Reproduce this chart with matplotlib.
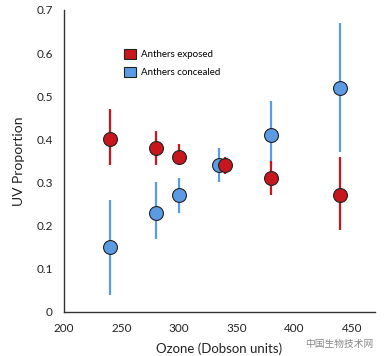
import matplotlib
matplotlib.use("Agg")
import matplotlib.pyplot as plt
from matplotlib.patches import Patch

ozone_exposed = [240, 280, 300, 340, 380, 440]
uv_exposed = [0.40, 0.38, 0.36, 0.34, 0.31, 0.27]
lo_exposed = [0.34, 0.34, 0.34, 0.32, 0.27, 0.19]
hi_exposed = [0.47, 0.42, 0.39, 0.36, 0.35, 0.36]

ozone_concealed = [240, 280, 300, 335, 380, 440]
uv_concealed = [0.15, 0.23, 0.27, 0.34, 0.41, 0.52]
lo_concealed = [0.04, 0.17, 0.23, 0.30, 0.34, 0.37]
hi_concealed = [0.26, 0.30, 0.31, 0.38, 0.49, 0.67]

xticks = [200, 250, 300, 350, 400, 450]
yticks = [0, 0.1, 0.2, 0.3, 0.4, 0.5, 0.6, 0.7]
ytick_labels = ["0", "0.1", "0.2", "0.3", "0.4", "0.5", "0.6", "0.7"]

red = "#C8161D"
blue = "#5B9BE3"

plt.rcParams['font.family'] = ['Lato', 'DejaVu Sans']
fig = plt.figure(figsize=(3.85, 3.56), dpi=100)
ax = fig.add_axes([0.166, 0.124, 0.808, 0.848])

def draw(x, y, lo, hi, color, z):
    yerr = [[yy - l for yy, l in zip(y, lo)], [h - yy for yy, h in zip(y, hi)]]
    ax.errorbar(x, y, yerr=yerr, fmt='none', ecolor=color, elinewidth=1.6, capsize=0, zorder=z)
    ax.plot(x, y, 'o', color=color, markersize=10, markeredgecolor='#222222',
            markeredgewidth=0.8, linestyle='none', zorder=z + 0.5)

draw(ozone_concealed, uv_concealed, lo_concealed, hi_concealed, blue, 2)
draw(ozone_exposed, uv_exposed, lo_exposed, hi_exposed, red, 3)

ax.set_xlim(200, 470)
ax.set_ylim(0, 0.7)
ax.set_xticks(xticks)
ax.set_xticklabels([str(t) for t in xticks])
ax.set_yticks(yticks)
ax.set_yticklabels(ytick_labels)
ax.tick_params(length=0, labelsize=8.5, colors='#222222', pad=8)
for s in ['top', 'right']:
    ax.spines[s].set_visible(False)
for s in ['left', 'bottom']:
    ax.spines[s].set_color('#333333')
    ax.spines[s].set_linewidth(1.0)

ax.set_xlabel("Ozone (Dobson units)", fontsize=9.5, color='#222222', labelpad=6)
ax.set_ylabel("UV Proportion", fontsize=10, color='#222222', labelpad=8)

handles = [Patch(facecolor=red, edgecolor='#222222', linewidth=0.8, label="Anthers exposed"),
           Patch(facecolor=blue, edgecolor='#222222', linewidth=0.8, label="Anthers concealed")]
ax.legend(handles=handles, loc='upper left', bbox_to_anchor=(0.165, 0.9), frameon=False,
          fontsize=7, handlelength=1.2, handleheight=1.2, handletextpad=0.5, labelspacing=0.8)

fig.text(0.97, 0.02, "中国生物技术网", family=['Noto Sans CJK SC', 'DejaVu Sans'],
         fontsize=7, color='#888888', ha='right', va='bottom')

fig.savefig("out.png", dpi=100)
